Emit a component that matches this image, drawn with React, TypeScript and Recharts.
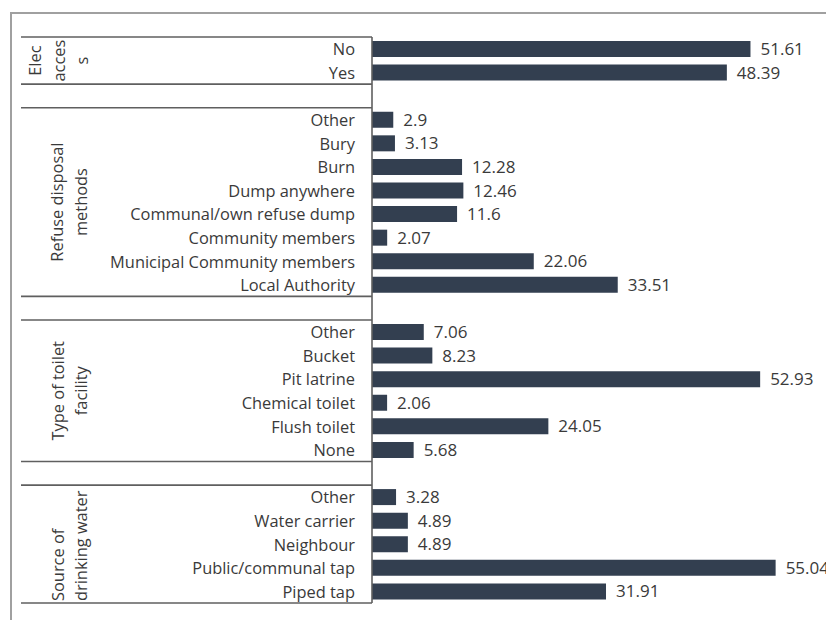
import { BarChart, Bar, XAxis, YAxis, LabelList } from 'recharts';

const groupTitles = [
  ['Elec', 'acces', 's'],
  ['Refuse disposal', 'methods'],
  ['Type of toilet', 'facility'],
  ['Source of', 'drinking water'],
];

const elecLabels = ['No', 'Yes'];
const elecValues = [51.61, 48.39];

const refuseLabels = [
  'Other',
  'Bury',
  'Burn',
  'Dump anywhere',
  'Communal/own refuse dump',
  'Community members',
  'Municipal Community members',
  'Local Authority',
];
const refuseValues = [2.9, 3.13, 12.28, 12.46, 11.6, 2.07, 22.06, 33.51];

const toiletLabels = ['Other', 'Bucket', 'Pit latrine', 'Chemical toilet', 'Flush toilet', 'None'];
const toiletValues = [7.06, 8.23, 52.93, 2.06, 24.05, 5.68];

const waterLabels = ['Other', 'Water carrier', 'Neighbour', 'Public/communal tap', 'Piped tap'];
const waterValues = [3.28, 4.89, 4.89, 55.04, 31.91];

const xDomain = [0, 60];

const W = 826;
const H = 620;
const MARGIN = { top: 37, right: 14, bottom: 17, left: 0 };
const AXIS_X = 372;
const BAR_COLOR = '#333f50';
const TEXT_COLOR = '#3a3a3a';
const LINE_COLOR = '#5f5f5f';
const FONT = '"Open Sans", sans-serif';
const LABEL_SIZE = 16.4;
const VALUE_SIZE = 17;
// the water title overflows its box, so Excel pins it to the bottom
const BOTTOM_ALIGNED = [3];

interface Row {
  key: string;
  label: string;
  value: number | null;
  group: number;
  pos: number;
  size: number;
}

const groups = [
  { labels: elecLabels, values: elecValues },
  { labels: refuseLabels, values: refuseValues },
  { labels: toiletLabels, values: toiletValues },
  { labels: waterLabels, values: waterValues },
];

const rows: Row[] = [];
groups.forEach((g, gi) => {
  if (gi > 0) {
    rows.push({ key: `gap-${gi}`, label: '', value: null, group: -1, pos: 0, size: 0 });
  }
  g.labels.forEach((label, i) => {
    rows.push({ key: `${gi}-${i}`, label, value: g.values[i], group: gi, pos: i, size: g.labels.length });
  });
});

const band = (H - MARGIN.top - MARGIN.bottom) / rows.length;

function GroupTick(props: any) {
  const { y, payload, index } = props;
  const row = rows.find((r) => r.key === payload.value);
  if (!row) return null;
  const lines: React.ReactNode[] = [];
  const sep = (yy: number, k: string) => (
    <line key={k} x1={21} x2={AXIS_X} y1={yy} y2={yy} stroke={LINE_COLOR} strokeWidth={1.6} />
  );
  if (index === 0) lines.push(sep(y - band / 2, 'top'));
  if (index === rows.length - 1) lines.push(sep(y + band / 2, 'bottom'));
  if (row.group < 0) {
    lines.push(sep(y - band / 2, 'a'));
    lines.push(sep(y + band / 2, 'b'));
  }

  let title: React.ReactNode = null;
  if (row.group >= 0 && row.pos === 0) {
    const titleLines = groupTitles[row.group];
    const bottom = BOTTOM_ALIGNED.includes(row.group);
    const cy = bottom
      ? y + (row.size - 0.5) * band - 2
      : y + ((row.size - 1) / 2) * band;
    const firstX = titleLines.length === 3 ? 35 : 57;
    title = titleLines.map((t, i) => {
      const cx = firstX + i * 23.5;
      return (
        <text
          key={t}
          x={cx}
          y={cy}
          transform={`rotate(-90, ${cx}, ${cy})`}
          textAnchor={bottom ? 'start' : 'middle'}
          dominantBaseline="central"
          fill={TEXT_COLOR}
          fontSize={LABEL_SIZE}
          fontFamily={FONT}
        >
          {t}
        </text>
      );
    });
  }

  return (
    <g>
      {lines}
      {title}
      {row.label && (
        <text
          x={AXIS_X - 17}
          y={y}
          textAnchor="end"
          dominantBaseline="central"
          fill={TEXT_COLOR}
          fontSize={LABEL_SIZE}
          fontFamily={FONT}
        >
          {row.label}
        </text>
      )}
    </g>
  );
}

export default function App() {
  return (
    <div
      style={{
        position: 'fixed',
        left: 0,
        top: 0,
        width: W,
        height: H,
        overflow: 'hidden',
        background: '#fff',
      }}
    >
      <div
        style={{
          position: 'absolute',
          left: 10,
          top: 12,
          right: -10,
          bottom: -10,
          borderTop: '2px solid #a0a0a0',
          borderLeft: '2px solid #a0a0a0',
        }}
      />
      <div style={{ position: 'absolute', left: 0, top: 0 }}>
        <BarChart layout="vertical" width={W} height={H} data={rows} margin={MARGIN} barSize={16}>
          <XAxis type="number" domain={xDomain} hide />
          <YAxis
            type="category"
            dataKey="key"
            width={AXIS_X}
            interval={0}
            tickLine={false}
            axisLine={{ stroke: LINE_COLOR, strokeWidth: 1.6 }}
            tick={(p: any) => <GroupTick {...p} />}
          />
          <Bar dataKey="value" fill={BAR_COLOR} isAnimationActive={false}>
            <LabelList
              dataKey="value"
              position="right"
              offset={10}
              fill={TEXT_COLOR}
              fontSize={VALUE_SIZE}
              fontFamily={FONT}
              formatter={(v: any) => (v == null ? '' : v)}
            />
          </Bar>
        </BarChart>
      </div>
    </div>
  );
}
